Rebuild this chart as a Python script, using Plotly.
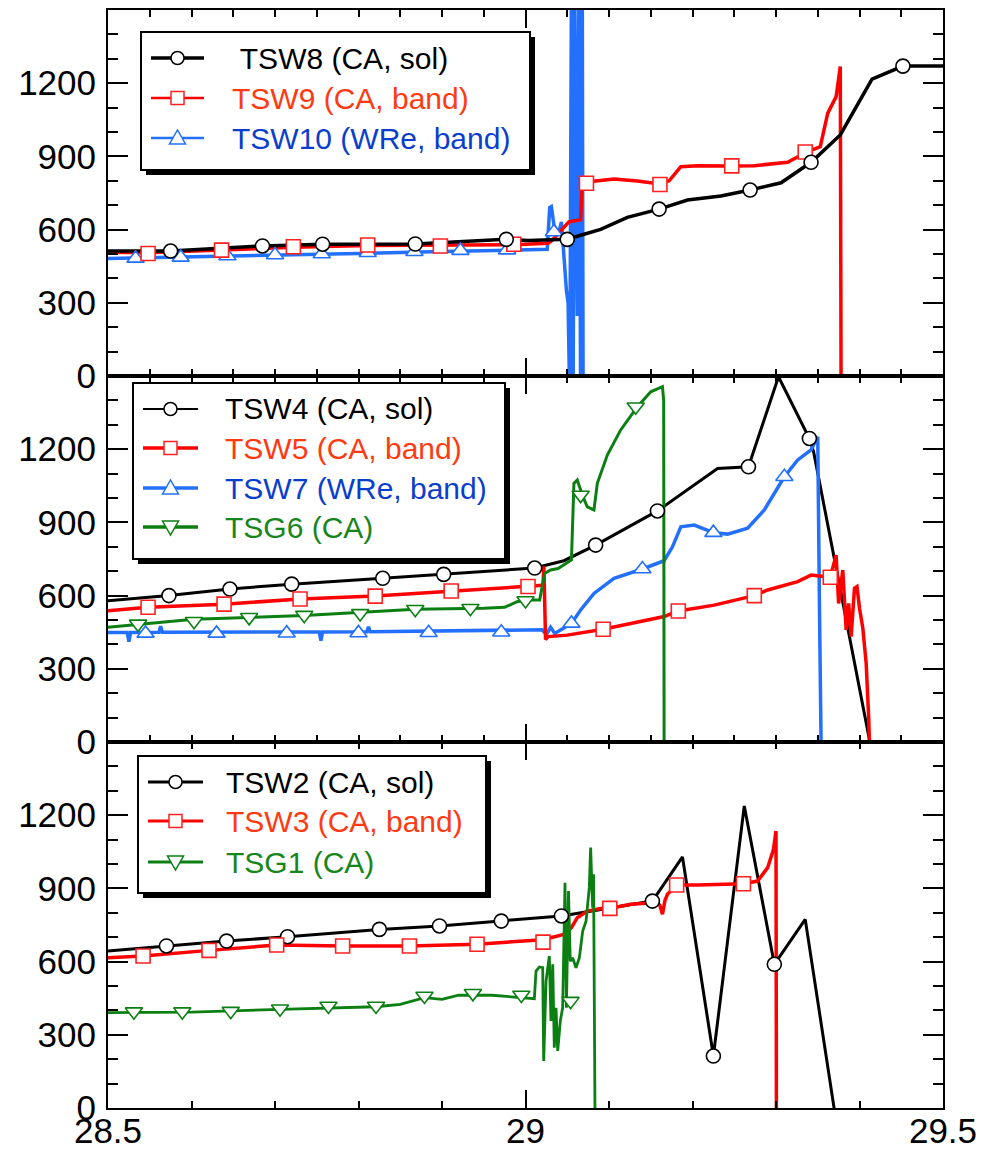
import plotly.graph_objects as go
from plotly.subplots import make_subplots

# ---------------- data: top panel ----------------
tsw8_x = [28.5, 28.575, 28.685, 28.757, 28.868, 28.977, 29.003, 29.05, 29.066, 29.09, 29.122, 29.16,
          29.194, 29.234, 29.269, 29.306, 29.342, 29.377, 29.415, 29.452, 29.5]
tsw8_y = [512, 512, 533, 540, 541, 560, 555, 560, 577, 601, 650, 684, 721, 738, 762, 792, 876, 988,
          1217, 1270, 1270]
tsw8_mx = [28.575, 28.685, 28.757, 28.868, 28.977, 29.05, 29.16, 29.269, 29.342, 29.452]
tsw8_my = [512, 533, 540, 541, 560, 560, 684, 762, 876, 1270]

tsw9_x = [28.5, 28.548, 28.636, 28.722, 28.811, 28.898, 28.986, 29.027, 29.032, 29.052, 29.066, 29.068,
          29.073, 29.106, 29.134, 29.161, 29.172, 29.186, 29.206, 29.247, 29.274, 29.314, 29.335, 29.353,
          29.362, 29.372, 29.377, 29.378]
tsw9_y = [507, 505, 516, 528, 535, 535, 538, 544, 557, 632, 640, 795, 795, 807, 799, 787, 800, 858, 862,
          861, 862, 876, 915, 940, 1077, 1145, 1268, -100]
tsw9_mx = [28.548, 28.636, 28.722, 28.811, 28.898, 28.986, 29.073, 29.161, 29.247, 29.335]
tsw9_my = [502, 516, 530, 537, 533, 540, 790, 785, 861, 918]

tsw10_x = [28.5, 28.6, 28.7, 28.8, 28.9, 28.979, 29.026, 29.029, 29.031, 29.034, 29.037, 29.04, 29.043,
           29.045, 29.047, 29.049, 29.051, 29.053, 29.055, 29.057, 29.059, 29.062, 29.064, 29.066, 29.068,
           29.069]
tsw10_y = [482, 488, 494, 502, 510, 516, 519, 690, 694, 620, 598, 590, 632, 540, 420, 350, 300, -100,
           1600, -100, 1600, 246, 1600, -100, 1600, -100]
tsw10_mx = [28.533, 28.587, 28.643, 28.7, 28.756, 28.811, 28.867, 28.922, 28.978, 29.034]
tsw10_my = [482, 486, 492, 496, 500, 505, 509, 514, 516, 590]

# ---------------- data: middle panel ----------------
tsw4_x = [28.5, 28.573, 28.646, 28.72, 28.829, 28.902, 29.011, 29.046, 29.084, 29.158, 29.23, 29.267,
          29.303, 29.34, 29.345, 29.413]
tsw4_y = [579, 600, 627, 647, 671, 687, 713, 743, 807, 947, 1121, 1128, 1497, 1244, 1190, -10]
tsw4_mx = [28.573, 28.646, 28.72, 28.829, 28.902, 29.011, 29.084, 29.158, 29.267, 29.34]
tsw4_my = [600, 627, 647, 671, 687, 713, 807, 947, 1128, 1244]

tsw5_x = [28.5, 28.548, 28.639, 28.73, 28.82, 28.911, 29.003, 29.017, 29.021, 29.022, 29.024, 29.027,
          29.05, 29.093, 29.126, 29.166, 29.183, 29.226, 29.274, 29.29, 29.326, 29.342, 29.365, 29.372,
          29.375, 29.38, 29.384, 29.387, 29.39, 29.394, 29.397, 29.4, 29.404, 29.408, 29.411, 29.412]
tsw5_y = [538, 552, 565, 586, 598, 619, 637, 641, 645, 720, 420, 432, 438, 462, 486, 514, 537, 561, 600,
          623, 657, 684, 675, 766, 568, 705, 459, 568, 432, 630, 637, 548, 466, 322, 100, -10]
tsw5_mx = [28.548, 28.639, 28.73, 28.82, 28.911, 29.003, 29.093, 29.183, 29.274, 29.365]
tsw5_my = [552, 565, 586, 598, 619, 637, 462, 537, 600, 675]

tsw7_x = [28.5, 28.523, 28.525, 28.527, 28.561, 28.563, 28.565, 28.65, 28.753, 28.755, 28.757, 28.81,
          28.812, 28.814, 28.9, 28.971, 29.02, 29.025, 29.03, 29.035, 29.05, 29.055, 29.066, 29.082,
          29.106, 29.14, 29.166, 29.176, 29.186, 29.202, 29.225, 29.242, 29.266, 29.286, 29.31, 29.326,
          29.342, 29.35, 29.352, 29.354]
tsw7_y = [449, 449, 411, 449, 450, 475, 450, 450, 451, 415, 451, 452, 472, 452, 455, 457, 460, 440, 470,
          445, 473, 486, 541, 609, 671, 709, 743, 800, 882, 889, 858, 852, 876, 951, 1087, 1156, 1197,
          1251, 568, -10]
tsw7_mx = [28.545, 28.63, 28.714, 28.8, 28.884, 28.971, 29.055, 29.14, 29.225, 29.31]
tsw7_my = [445, 445, 446, 447, 448, 450, 486, 709, 858, 1087]

tsg6_x = [28.5, 28.603, 28.735, 28.868, 28.95, 28.975, 28.99, 29.0, 29.017, 29.023, 29.03, 29.039,
          29.055, 29.058, 29.062, 29.068, 29.074, 29.082, 29.086, 29.098, 29.114, 29.134, 29.15, 29.164,
          29.1655, 29.166]
tsg6_y = [470, 503, 518, 544, 548, 552, 575, 582, 582, 691, 705, 711, 746, 1060, 1074, 1012, 964, 951,
          1060, 1176, 1279, 1374, 1435, 1456, 1400, -10]
tsg6_mx = [28.536, 28.603, 28.669, 28.735, 28.802, 28.868, 28.934, 29.0, 29.066, 29.132]
tsg6_my = [484, 495, 511, 520, 527, 544, 548, 580, 1012, 1374]

# ---------------- data: bottom panel ----------------
tsw2_x = [28.5, 28.57, 28.642, 28.715, 28.825, 28.897, 28.971, 29.043, 29.152, 29.188, 29.225, 29.262,
          29.298, 29.335, 29.37]
tsw2_y = [643, 664, 684, 702, 732, 746, 766, 787, 848, 1029, 213, 1238, 589, 773, -10]
tsw2_mx = [28.57, 28.642, 28.715, 28.825, 28.897, 28.971, 29.043, 29.152, 29.225, 29.298]
tsw2_my = [664, 684, 702, 732, 746, 766, 787, 848, 213, 589]

tsw3_x = [28.5, 28.542, 28.621, 28.702, 28.781, 28.861, 28.942, 28.995, 29.021, 29.047, 29.055, 29.062,
          29.074, 29.09, 29.101, 29.126, 29.158, 29.161, 29.164, 29.167, 29.17, 29.181, 29.206, 29.261,
          29.278, 29.29, 29.297, 29.3, 29.3005]
tsw3_y = [616, 623, 646, 668, 664, 664, 671, 684, 690, 712, 739, 780, 807, 818, 818, 835, 842, 830, 794,
          850, 876, 914, 914, 919, 930, 985, 1060, 1135, -20]
tsw3_mx = [28.542, 28.621, 28.702, 28.781, 28.861, 28.942, 29.021, 29.101, 29.181, 29.261]
tsw3_my = [623, 646, 668, 664, 664, 671, 680, 818, 914, 919]

tsg1_x = [28.5, 28.6, 28.706, 28.79, 28.821, 28.85, 28.879, 28.9, 28.92, 28.96, 28.99, 29.0106, 29.0126,
          29.0166, 29.0206, 29.0218, 29.0246, 29.0285, 29.0305, 29.0326, 29.0345, 29.0365, 29.0386,
          29.0417, 29.0445, 29.0473, 29.049, 29.0515, 29.0536, 29.0564, 29.0605, 29.0645, 29.0685,
          29.0725, 29.0764, 29.078, 29.0804, 29.0815, 29.0832]
tsg1_y = [391, 393, 404, 410, 415, 425, 452, 445, 463, 462, 455, 448, 561, 578, 575, 193, 520, 623, 357,
          589, 247, 411, 234, 357, 411, 923, 411, 889, 602, 616, 575, 616, 725, 766, 903, 1067, 821, 958,
          -10]
tsg1_mx = [28.531, 28.589, 28.647, 28.706, 28.764, 28.821, 28.879, 28.937, 28.995, 29.054]
tsg1_my = [395, 395, 397, 407, 418, 418, 459, 470, 463, 438]

x_ticks = [28.5, 29, 29.5]
x_tick_text = ["28.5", "29", "29.5"]
y_ticks = [0, 300, 600, 900, 1200]

# ---------------- styling ----------------
BLACK = "#000000"
RED = "#FF0000"
BLUE = "#2370FF"
GREEN = "#0B7F12"
RED_TXT = "#FF3A12"
BLUE_TXT = "#0B3ECC"
GREEN_TXT = "#17861A"
FONT = "Liberation Sans, Arial, sans-serif"

W, H = 996, 1153
ML, MR, MT, MB = 108, 53, 10, 45
PW, PH = W - ML - MR, H - MT - MB

fig = make_subplots(rows=3, cols=1, shared_xaxes=True, vertical_spacing=0)

# series per panel: (x, y, mx, my, line colour, width, symbol, marker edge colour, msize)
panels = {
    1: [
        (tsw10_x, tsw10_y, tsw10_mx, tsw10_my, BLUE, 3.5, "triangle-up", BLUE, 15),
        (tsw9_x, tsw9_y, tsw9_mx, tsw9_my, RED, 3.5, "square", "#FF2020", 14),
        (tsw8_x, tsw8_y, tsw8_mx, tsw8_my, BLACK, 3.5, "circle", BLACK, 14),
    ],
    2: [
        (tsw4_x, tsw4_y, tsw4_mx, tsw4_my, BLACK, 3, "circle", BLACK, 14),
        (tsw7_x, tsw7_y, tsw7_mx, tsw7_my, BLUE, 3.5, "triangle-up", BLUE, 15),
        (tsw5_x, tsw5_y, tsw5_mx, tsw5_my, RED, 3.5, "square", "#FF2020", 14),
        (tsg6_x, tsg6_y, tsg6_mx, tsg6_my, GREEN, 3, "triangle-down", GREEN, 15),
    ],
    3: [
        (tsw2_x, tsw2_y, tsw2_mx, tsw2_my, BLACK, 3, "circle", BLACK, 14),
        (tsw3_x, tsw3_y, tsw3_mx, tsw3_my, RED, 3.5, "square", "#FF2020", 14),
        (tsg1_x, tsg1_y, tsg1_mx, tsg1_my, GREEN, 2.8, "triangle-down", GREEN, 15),
    ],
}

for row, series in panels.items():
    for (x, y, mx, my, col, lw, sym, mcol, ms) in series:
        fig.add_trace(go.Scatter(x=x, y=y, mode="lines", line=dict(color=col, width=lw),
                                 showlegend=False, hoverinfo="skip"), row=row, col=1)
    for (x, y, mx, my, col, lw, sym, mcol, ms) in series:
        fig.add_trace(go.Scatter(x=mx, y=my, mode="markers",
                                 marker=dict(symbol=sym, size=ms, color="white",
                                             line=dict(color=mcol, width=1.6)),
                                 showlegend=False, hoverinfo="skip"), row=row, col=1)

for row in (1, 2, 3):
    fig.update_xaxes(range=[28.5, 29.5], tickvals=x_ticks, ticktext=x_tick_text,
                     showticklabels=(row == 3), ticks="inside", ticklen=18, tickwidth=2,
                     tickcolor=BLACK, ticklabelstandoff=-9, automargin=False,
                     minor=dict(dtick=0.05 if row < 3 else 0.1, tick0=28.5, ticks="inside",
                                ticklen=7, tickwidth=2, tickcolor=BLACK),
                     showline=True, linewidth=2, linecolor=BLACK, mirror="allticks",
                     showgrid=False, zeroline=False,
                     tickfont=dict(family=FONT, size=35, color=BLACK), row=row, col=1)
    fig.update_yaxes(range=[0, 1500], tickvals=y_ticks, ticks="inside", ticklen=20, tickwidth=2,
                     tickcolor=BLACK, automargin=False,
                     minor=dict(dtick=100, tick0=0, ticks="inside", ticklen=10, tickwidth=2,
                                tickcolor=BLACK),
                     showline=True, linewidth=2, linecolor=BLACK, mirror="allticks",
                     showgrid=False, zeroline=False, ticklabelstandoff=3,
                     tickfont=dict(family=FONT, size=35, color=BLACK), row=row, col=1)

# ---------------- hand-made legends with drop shadow ----------------
def fx(px):
    return (px - ML) / PW


def fy(py):
    return (H - MB - py) / PH


legends = [
    dict(box=(141, 32, 530, 170), sym=(151, 204), tx=230, rows=[58, 98, 138],
         entries=[(" TSW8 (CA, sol)", BLACK, BLACK, "circle", 3.5),
                  ("TSW9 (CA, band)", RED, RED_TXT, "square", 2.5),
                  ("TSW10 (WRe, band)", BLUE, BLUE_TXT, "triangle-up", 2.5)]),
    dict(box=(133, 383, 505, 559), sym=(143, 198), tx=223, rows=[409, 448, 488, 527],
         entries=[("TSW4 (CA, sol)", BLACK, BLACK, "circle", 2),
                  ("TSW5 (CA, band)", RED, RED_TXT, "square", 3.5),
                  ("TSW7 (WRe, band)", BLUE, BLUE_TXT, "triangle-up", 3.5),
                  ("TSG6 (CA)", GREEN, GREEN_TXT, "triangle-down", 3.5)]),
    dict(box=(138, 756, 486, 893), sym=(148, 203), tx=224, rows=[782, 821, 862],
         entries=[("TSW2 (CA, sol)", BLACK, BLACK, "circle", 3),
                  ("TSW3 (CA, band)", RED, RED_TXT, "square", 3),
                  ("TSG1 (CA)", GREEN, GREEN_TXT, "triangle-down", 3)]),
]

shapes = []
annotations = []
for lg in legends:
    x0, y0, x1, y1 = lg["box"]
    shapes.append(dict(type="rect", xref="paper", yref="paper", x0=fx(x0 + 5), x1=fx(x1 + 5),
                       y0=fy(y1 + 5), y1=fy(y0 + 5), fillcolor=BLACK, line=dict(width=0)))
    shapes.append(dict(type="rect", xref="paper", yref="paper", x0=fx(x0), x1=fx(x1),
                       y0=fy(y1), y1=fy(y0), fillcolor="white", line=dict(color=BLACK, width=2)))
    sx0, sx1 = lg["sym"]
    cx = (sx0 + sx1) / 2
    for cy, (label, lcol, tcol, sym, lw) in zip(lg["rows"], lg["entries"]):
        shapes.append(dict(type="line", xref="paper", yref="paper", x0=fx(sx0), x1=fx(sx1),
                           y0=fy(cy), y1=fy(cy), line=dict(color=lcol, width=lw)))
        edge = "#FF2020" if lcol == RED else lcol
        if sym == "circle":
            shapes.append(dict(type="circle", xref="paper", yref="paper", x0=fx(cx - 6.5),
                               x1=fx(cx + 6.5), y0=fy(cy + 6.5), y1=fy(cy - 6.5),
                               fillcolor="white", line=dict(color=edge, width=1.5)))
        elif sym == "square":
            shapes.append(dict(type="rect", xref="paper", yref="paper", x0=fx(cx - 6.5),
                               x1=fx(cx + 6.5), y0=fy(cy + 6.5), y1=fy(cy - 6.5),
                               fillcolor="white", line=dict(color=edge, width=1.5)))
        elif sym == "triangle-up":
            path = (f"M {fx(cx - 8)},{fy(cy + 6)} L {fx(cx + 8)},{fy(cy + 6)} "
                    f"L {fx(cx)},{fy(cy - 8)} Z")
            shapes.append(dict(type="path", xref="paper", yref="paper", path=path,
                               fillcolor="white", line=dict(color=edge, width=1.5)))
        else:
            path = (f"M {fx(cx - 8)},{fy(cy - 6)} L {fx(cx + 8)},{fy(cy - 6)} "
                    f"L {fx(cx)},{fy(cy + 8)} Z")
            shapes.append(dict(type="path", xref="paper", yref="paper", path=path,
                               fillcolor="white", line=dict(color=edge, width=1.5)))
        annotations.append(dict(text=label, xref="paper", yref="paper", x=fx(lg["tx"]), y=fy(cy),
                                xanchor="left", yanchor="middle", showarrow=False,
                                font=dict(family=FONT, size=30, color=tcol)))

fig.update_layout(width=W, height=H, margin=dict(l=ML, r=MR, t=MT, b=MB, autoexpand=False),
                  paper_bgcolor="white", plot_bgcolor="white", showlegend=False,
                  shapes=shapes, annotations=annotations, font=dict(family=FONT))

fig.write_html("out.html")
